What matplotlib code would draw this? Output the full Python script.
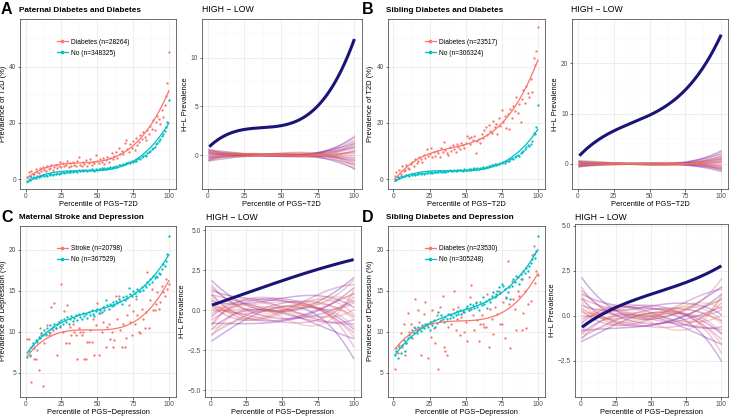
import numpy as np
import matplotlib
matplotlib.use('Agg')
import matplotlib.pyplot as plt
from matplotlib.lines import Line2D
from matplotlib import cm

plt.rcParams['font.family'] = ['Liberation Sans', 'DejaVu Sans']

# ---------------- data ----------------
percentile = list(range(1, 101))
perm_knots_x = [1, 25, 50, 75, 100]
hl_x = [1, 12.5, 25, 37.5, 50, 62.5, 75, 87.5, 100]

a_titles = ("Paternal Diabetes and Diabetes", "Diabetes (n=28264)", "No (n=348325)")
b_titles = ("Sibling Diabetes and Diabetes", "Diabetes (n=23517)", "No (n=306324)")
c_titles = ("Maternal Stroke and Depression", "Stroke (n=20798)", "No (n=367529)")
d_titles = ("Sibling Diabetes and Depression", "Diabetes (n=23530)", "No (n=305248)")

a_case = [0.8, 2.5, 1.2, 3.0, 2.0, 1.8, 3.5, 2.6, 2.2, 3.8,
          3.0, 4.2, 3.4, 2.8, 4.6, 3.6, 4.0, 5.0, 3.2, 4.4,
          5.2, 3.8, 4.8, 6.0, 4.2, 5.6, 4.6, 5.0, 6.4, 4.4,
          5.8, 4.8, 6.2, 5.0, 4.6, 6.6, 8.0, 5.2, 4.8, 6.0,
          5.4, 6.8, 4.6, 5.8, 7.2, 5.0, 6.2, 5.6, 8.6, 6.4,
          5.6, 7.0, 6.0, 7.6, 5.4, 6.8, 8.0, 6.2, 7.4, 9.2,
          7.0, 8.4, 9.8, 7.6, 11.0, 8.8, 10.2, 9.0, 13.0, 14.0,
          10.8, 9.6, 12.4, 11.2, 13.6, 10.4, 14.8, 12.0, 13.4, 15.6,
          14.2, 16.8, 15.0, 13.8, 17.6, 16.2, 19.0, 18.0, 21.0, 17.4,
          20.2, 22.6, 21.4, 19.8, 24.7, 22.0, 26.4, 29.7, 34.3, 45.4]
a_no = [-0.6, 0.2, -0.2, 0.6, 0.4, 0.8, 0.5, 1.0, 0.9, 1.2,
        1.0, 1.4, 1.2, 1.6, 1.3, 1.7, 1.5, 1.9, 1.6, 2.0,
        1.8, 2.2, 1.9, 2.3, 2.1, 2.5, 2.2, 2.6, 2.4, 2.7,
        2.5, 2.9, 2.6, 2.8, 3.0, 2.7, 3.1, 2.9, 3.2, 3.0,
        3.3, 3.1, 2.9, 3.4, 3.2, 3.5, 3.3, 3.0, 3.6, 3.4,
        3.7, 3.5, 3.8, 3.6, 4.0, 3.7, 4.1, 3.9, 4.3, 4.0,
        4.4, 4.2, 4.6, 4.4, 4.9, 5.2, 5.0, 5.5, 5.3, 5.8,
        5.6, 6.0, 5.8, 6.3, 6.1, 6.6, 6.4, 7.0, 7.4, 7.2,
        7.8, 8.2, 8.6, 8.4, 9.2, 9.8, 10.2, 10.8, 11.0, 11.6,
        12.4, 12.8, 13.6, 14.2, 15.4, 16.0, 17.2, 18.4, 20.3, 28.3]
a_hl = [0.9, 2.0, 2.6, 2.8, 3.1, 3.7, 5.0, 7.6, 12.0]

b_case = [1.0, 2.4, 0.6, 3.4, 1.8, 4.6, 2.8, 3.2, 5.0, 4.0,
          3.6, 5.4, 6.2, 4.8, 7.0, 5.6, 6.4, 8.0, 7.2, 6.0,
          8.6, 7.4, 10.6, 8.2, 9.0, 11.2, 7.8, 9.6, 8.4, 10.2,
          9.2, 8.0, 11.0, 9.8, 13.4, 10.4, 9.4, 8.6, 11.6, 10.0,
          12.0, 10.8, 9.6, 12.6, 11.4, 10.6, 13.0, 12.2, 11.0, 12.8,
          15.2, 14.6, 12.6, 15.0, 14.0, 15.4, 9.2, 13.6, 14.4, 13.0,
          16.0, 14.8, 17.6, 18.4, 15.6, 19.2, 17.0, 16.4, 20.8, 18.6,
          19.6, 16.2, 21.6, 18.8, 24.6, 20.4, 22.4, 18.2, 23.2, 17.8,
          25.0, 21.8, 26.2, 24.4, 29.4, 23.6, 26.8, 20.2, 28.6, 31.6,
          27.2, 33.2, 30.6, 29.4, 35.8, 31.0, 43.0, 40.8, 45.6, 54.2]
b_no = [0.0, -0.2, 0.6, 0.4, 1.0, 0.8, 1.2, 1.0, 1.4, 1.6,
        1.3, 1.7, 1.5, 1.9, 1.6, 2.0, 1.8, 2.1, 1.9, 2.2,
        2.0, 2.3, 2.1, 2.4, 2.2, 2.5, 2.3, 2.6, 2.4, 2.7,
        2.5, 2.8, 2.6, 2.7, 2.9, 2.6, 3.0, 2.8, 3.1, 2.9,
        3.0, 3.2, 2.9, 3.3, 3.1, 3.4, 3.2, 3.0, 3.5, 3.3,
        3.4, 3.6, 3.3, 3.7, 3.5, 3.8, 3.6, 3.9, 3.7, 4.0,
        3.8, 4.2, 4.0, 4.4, 4.3, 4.8, 4.6, 5.0, 4.9, 5.3,
        5.1, 5.5, 5.4, 5.8, 5.6, 6.0, 5.9, 6.3, 6.6, 6.4,
        7.0, 7.4, 7.2, 7.8, 8.2, 8.6, 8.4, 9.2, 9.6, 10.2,
        10.6, 11.4, 12.0, 11.8, 12.6, 13.6, 16.4, 16.0, 18.6, 26.3]
b_hl = [1.5, 4.6, 6.6, 8.2, 9.5, 11.5, 14.8, 19.5, 25.5]

c_case = [9.1, 9.1, 7.0, 3.9, 8.4, 6.7, 6.7, 7.8, 5.3, 10.5,
          9.6, 3.4, 8.6, 9.6, 10.8, 9.6, 9.8, 13.0, 10.2, 13.5,
          10.5, 7.2, 11.2, 10.6, 15.8, 10.0, 12.5, 8.6, 13.3, 8.6,
          10.6, 9.6, 11.0, 10.0, 9.6, 6.7, 10.4, 10.0, 9.6, 10.0,
          6.7, 6.7, 8.7, 8.7, 10.2, 8.7, 11.5, 7.2, 10.8, 13.5,
          7.2, 12.3, 10.0, 11.2, 13.0, 8.2, 10.6, 11.0, 9.1, 10.0,
          8.2, 9.0, 14.4, 11.6, 14.4, 10.2, 8.1, 11.0, 8.1, 9.2,
          12.0, 13.3, 11.2, 9.6, 12.5, 11.0, 14.0, 12.0, 10.0, 9.8,
          12.8, 11.6, 10.5, 12.4, 17.3, 10.5, 13.9, 15.2, 12.6, 12.7,
          13.4, 14.8, 12.8, 13.6, 15.6, 14.8, 14.4, 16.4, 15.2, 15.8]
c_no = [6.9, 7.6, 7.2, 8.2, 8.6, 8.0, 9.0, 8.8, 9.4, 9.2,
        9.8, 9.6, 10.2, 9.7, 10.4, 10.0, 10.8, 10.3, 10.6, 11.0,
        10.4, 10.9, 11.2, 10.7, 11.4, 11.0, 11.6, 11.2, 11.8, 10.9,
        11.5, 11.9, 11.3, 11.7, 12.0, 11.4, 12.2, 11.8, 11.6, 12.3,
        11.9, 12.1, 11.7, 12.4, 12.0, 12.6, 12.2, 11.9, 12.5, 12.8,
        12.3, 12.7, 12.4, 13.0, 12.6, 13.9, 13.2, 12.8, 13.4, 13.1,
        13.6, 13.3, 13.8, 13.5, 14.0, 13.7, 13.4, 14.2, 13.9, 14.4,
        14.1, 15.3, 14.6, 14.3, 15.0, 14.7, 14.4, 15.2, 14.9, 15.0,
        15.4, 15.1, 15.7, 15.5, 16.0, 15.8, 16.4, 16.1, 16.8, 16.5,
        16.8, 16.6, 17.2, 17.0, 17.6, 18.2, 18.0, 18.6, 19.5, 21.6]
c_hl = [0.3, 0.7, 1.06, 1.45, 1.83, 2.2, 2.56, 2.87, 3.15]

d_case = [5.5, 8.0, 7.4, 8.4, 9.8, 8.2, 11.0, 7.2, 8.6, 12.3,
          10.0, 11.0, 9.2, 10.6, 14.0, 10.2, 12.7, 11.2, 7.2, 10.6,
          12.2, 13.6, 10.8, 6.8, 11.2, 9.4, 12.6, 10.4, 8.6, 12.0,
          5.5, 13.0, 11.4, 14.4, 8.2, 7.6, 7.2, 10.6, 12.2, 11.0,
          12.8, 14.9, 10.2, 11.6, 13.0, 9.6, 11.8, 12.4, 10.0, 11.2,
          8.9, 12.6, 14.2, 15.7, 12.0, 10.2, 13.6, 11.4, 8.9, 11.0,
          12.0, 11.0, 10.6, 10.6, 14.6, 8.1, 12.8, 11.6, 9.7, 13.0,
          14.4, 12.2, 15.0, 11.0, 11.0, 13.6, 9.3, 14.2, 18.6, 13.4,
          8.0, 16.2, 14.0, 12.8, 10.2, 15.0, 14.4, 16.4, 10.2, 12.3,
          15.0, 10.4, 13.4, 16.6, 13.8, 19.3, 20.4, 15.9, 17.4, 16.9]
d_no = [7.2, 7.6, 6.8, 8.2, 7.4, 8.4, 9.0, 7.6, 8.6, 9.2,
        9.6, 9.4, 10.2, 9.8, 10.4, 9.9, 10.6, 10.3, 10.1, 10.8,
        10.4, 10.9, 11.0, 10.6, 10.2, 11.2, 10.8, 11.4, 10.6, 11.1,
        12.4, 11.3, 12.0, 11.6, 11.2, 11.8, 11.5, 12.2, 11.7, 12.0,
        11.8, 12.3, 12.0, 12.5, 12.2, 12.7, 12.1, 12.6, 12.4, 12.9,
        13.1, 12.6, 13.4, 12.8, 13.2, 12.9, 13.5, 13.0, 12.7, 13.6,
        13.3, 14.2, 13.4, 13.8, 12.9, 14.0, 13.6, 14.4, 14.8, 14.2,
        14.6, 14.9, 15.4, 14.7, 15.8, 15.6, 15.2, 14.1, 14.8, 15.4,
        14.0, 15.6, 16.4, 16.0, 16.8, 16.6, 15.8, 17.0, 16.4, 17.4,
        17.2, 17.8, 17.4, 18.0, 18.4, 18.8, 19.4, 19.0, 19.8, 21.6]
d_hl = [-0.65, 0.0, 0.5, 0.85, 1.15, 1.5, 1.9, 2.3, 2.75]

# permutation (null) difference curves: values at perm_knots_x
a_perm = [[0.5, 0.1, -0.1, 0.2, 1.8], [-0.6, -0.1, 0.1, -0.2, -1.4], [0.3, 0.0, 0.1, 0.1, 0.9],
          [-0.3, 0.1, -0.1, 0.0, -0.6], [0.2, -0.1, 0.0, 0.2, 1.2], [-0.5, 0.0, 0.1, -0.1, 0.4],
          [0.4, 0.1, -0.1, -0.2, -1.0], [-0.2, -0.1, 0.0, 0.1, 1.5], [0.1, 0.1, 0.1, -0.1, -0.3],
          [-0.4, 0.0, -0.1, 0.2, 0.7], [0.6, -0.1, 0.0, 0.0, -0.8], [0.0, 0.0, 0.1, 0.1, 0.2],
          [-0.1, 0.1, -0.1, -0.1, 1.1], [0.3, -0.1, 0.1, 0.2, -1.2], [-0.5, 0.1, 0.0, -0.2, 0.5],
          [0.2, 0.0, -0.1, 0.1, -0.5], [-0.3, -0.1, 0.1, 0.0, 2.0], [0.4, 0.1, 0.0, -0.1, 0.0],
          [-0.2, 0.0, 0.0, 0.2, -1.5], [0.1, -0.1, 0.1, -0.2, 0.8], [0.5, 0.0, -0.1, 0.1, -0.2],
          [-0.6, 0.1, 0.1, 0.0, 1.3], [0.0, -0.1, 0.0, 0.1, -0.9], [0.3, 0.1, 0.0, -0.1, 0.3]]
b_perm = [[0.6, 0.1, -0.1, 0.2, 2.6], [-0.5, -0.1, 0.1, -0.2, -1.5], [0.3, 0.0, 0.1, 0.1, 1.4],
          [-0.3, 0.1, -0.1, 0.0, -0.9], [0.2, -0.1, 0.0, 0.3, 2.0], [-0.6, 0.0, 0.1, -0.1, 0.6],
          [0.4, 0.1, -0.1, -0.2, -1.1], [-0.2, -0.1, 0.0, 0.1, 1.0], [0.1, 0.1, 0.1, -0.1, -0.4],
          [-0.4, 0.0, -0.1, 0.2, 0.9], [0.5, -0.1, 0.0, 0.0, -0.7], [0.0, 0.0, 0.1, 0.1, 0.3],
          [-0.1, 0.1, -0.1, -0.1, 1.7], [0.3, -0.1, 0.1, 0.2, -1.3], [-0.5, 0.1, 0.0, -0.2, 0.2],
          [0.2, 0.0, -0.1, 0.1, -0.2], [-0.3, -0.1, 0.1, 0.0, 2.3], [0.4, 0.1, 0.0, -0.1, 0.5],
          [-0.2, 0.0, 0.0, 0.2, -1.0], [0.1, -0.1, 0.1, -0.2, 1.2], [0.5, 0.0, -0.1, 0.1, -0.5],
          [-0.6, 0.1, 0.1, 0.0, 0.8], [0.0, -0.1, 0.0, 0.1, -0.8], [0.3, 0.1, 0.0, -0.1, 1.5]]
c_perm = [[1.8, 0.4, -0.2, 0.6, 2.0], [-1.9, -0.6, 0.3, -0.4, -3.0], [1.2, 0.8, 0.5, 0.2, -1.2],
          [-0.8, -0.9, -0.6, -0.1, 1.4], [0.6, 0.3, 0.9, 0.8, 0.2], [-1.2, 0.1, -0.3, -0.8, -1.8],
          [0.9, -0.4, -0.7, 0.1, 1.0], [-0.4, 0.6, 0.2, -0.6, -0.6], [1.4, 0.0, -0.5, -0.3, 0.6],
          [-1.5, -0.3, 0.4, 0.5, -0.4], [0.3, -0.7, 0.0, 0.9, 1.6], [-0.6, 0.5, 0.7, 0.1, -1.4],
          [1.0, 0.2, 0.1, -0.9, -0.8], [0.0, -0.2, -0.9, -0.5, 0.8], [-1.0, 0.9, 0.3, 0.3, 0.4],
          [0.5, -0.5, 0.6, -0.2, -2.2], [-0.2, 0.3, -0.4, 0.6, 1.8], [1.6, -0.1, 0.2, 0.0, -1.0],
          [-1.6, 0.2, -0.1, -0.3, 0.0], [0.8, -0.8, 0.4, 0.4, -0.2], [-0.9, 0.6, -0.8, -0.7, 1.2],
          [0.2, 0.1, 0.8, -0.1, -1.6], [1.1, -0.6, -0.2, 0.7, 0.5], [-0.3, 0.7, 0.0, -0.4, 1.1],
          [0.4, -0.3, 0.5, 0.2, -0.5], [-1.3, -0.1, -0.6, 0.8, 0.9]]
d_perm = [[2.1, 0.3, -0.2, 0.4, 1.6], [-1.4, -0.5, 0.2, -0.3, -2.5], [1.2, 0.6, 0.4, 0.1, -1.0],
          [-0.8, -0.7, -0.5, 0.0, 1.2], [0.6, 0.2, 0.7, 0.6, 0.1], [-1.0, 0.1, -0.2, -0.6, -1.6],
          [0.9, -0.3, -0.6, 0.1, 0.9], [-0.4, 0.5, 0.2, -0.5, -0.6], [1.4, 0.0, -0.4, -0.2, 0.5],
          [-1.2, -0.2, 0.3, 0.4, -0.3], [0.3, -0.6, 0.0, 0.7, 1.5], [-0.6, 0.4, 0.5, 0.1, -1.3],
          [1.0, 0.1, 0.1, -0.7, -0.7], [0.0, -0.2, -0.7, -0.4, 0.7], [-0.9, 0.7, 0.2, 0.2, 0.3],
          [0.5, -0.4, 0.5, -0.2, -2.0], [-0.2, 0.3, -0.3, 0.5, 2.0], [1.6, -0.1, 0.2, 0.0, -0.9],
          [-1.3, 0.2, -0.1, -0.2, 0.0], [0.8, -0.6, 0.3, 0.3, -0.2], [-0.7, 0.5, -0.6, -0.6, 1.1],
          [0.2, 0.1, 0.6, -0.1, -1.5], [1.1, -0.5, -0.2, 0.6, 0.4], [-0.3, 0.6, 0.0, -0.3, 1.0],
          [0.4, -0.3, 0.4, 0.2, -0.4], [-1.1, -0.1, -0.5, 0.7, 0.8]]

# ---------------- styling ----------------
W, H = 730, 416
RED, TEAL, NAVY = '#F8766D', '#00BFC4', '#1B1478'
fig = plt.figure(figsize=(W / 100, H / 100), dpi=100)
fig.patch.set_facecolor('white')


def ax_px(l, t, r, b):
    return fig.add_axes([l / W, 1 - b / H, (r - l) / W, (b - t) / H])


def ftext(x, y, s, **kw):
    fig.text(x / W, 1 - y / H, s, va='center', ha='left', **kw)


def style(ax, ylim, yticks, ylabels, xlabel, ylabel):
    ax.set_xlim(-3.95, 104.95)
    ax.set_ylim(*ylim)
    ax.set_xticks([0, 25, 50, 75, 100])
    ax.set_xticklabels(['0', '25', '50', '75', '100'])
    ax.set_xticks([12.5, 37.5, 62.5, 87.5], minor=True)
    ax.set_yticks(yticks)
    ax.set_yticklabels(ylabels)
    step = yticks[1] - yticks[0]
    minors = [yticks[0] - step / 2] + [t + step / 2 for t in yticks]
    minors = [m for m in minors if ylim[0] < m < ylim[1]]
    ax.set_yticks(minors, minor=True)
    ax.grid(which='major', color='#EBEBEB', lw=0.6)
    ax.grid(which='minor', color='#F3F3F3', lw=0.35)
    ax.set_axisbelow(True)
    ax.tick_params(which='major', length=1.8, width=0.5, color='#333333',
                   labelsize=4.8, labelcolor='#4D4D4D', pad=1.0)
    ax.tick_params(which='minor', length=0)
    for s in ax.spines.values():
        s.set_color('#333333')
        s.set_linewidth(0.5)
    ax.set_xlabel(xlabel, fontsize=5.4, labelpad=1.0)
    ax.set_ylabel(ylabel, fontsize=5.4, labelpad=1.5)


grid_x = np.linspace(1, 100, 300)
x = np.array(percentile, dtype=float)


def left_panel(box, case, no, titles, ylim, yticks, ylabels, xlabel, ylabel):
    ax = ax_px(*box)
    style(ax, ylim, yticks, ylabels, xlabel, ylabel)
    ax.scatter(x, case, s=2.8, color=RED, lw=0, zorder=3)
    ax.scatter(x, no, s=2.8, color=TEAL, lw=0, zorder=3)
    fc = np.polyval(np.polyfit(x, case, 3), grid_x)
    fn = np.polyval(np.polyfit(x, no, 3), grid_x)
    ax.plot(grid_x, fc, color=RED, lw=0.9, zorder=4)
    ax.plot(grid_x, fn, color=TEAL, lw=0.9, zorder=4)
    handles = [Line2D([], [], color=RED, lw=0.9, marker='o', ms=1.6),
               Line2D([], [], color=TEAL, lw=0.9, marker='o', ms=1.6)]
    ax.legend(handles, [titles[1], titles[2]], loc='upper left',
              bbox_to_anchor=(0.235, 0.885), frameon=False, fontsize=4.8,
              handlelength=1.7, handletextpad=0.5, labelspacing=0.62,
              borderaxespad=0, borderpad=0)


def right_panel(box, hl, perm, ylim, yticks, ylabels, xlabel):
    ax = ax_px(*box)
    style(ax, ylim, yticks, ylabels, xlabel, 'H\u2212L Prevalence')
    cols = cm.plasma(np.linspace(0.1, 0.75, len(perm)))
    for i, kn in enumerate(perm):
        yy = np.polyval(np.polyfit(perm_knots_x, kn, 3), grid_x)
        ax.plot(grid_x, yy, color=cols[i], alpha=0.3, lw=1.1, zorder=2)
    hy = np.polyval(np.polyfit(hl_x, hl, 3), grid_x)
    ax.plot(grid_x, hy, color=NAVY, lw=2.2, zorder=5, solid_capstyle='butt')


xl_t2d = 'Percentile of PGS\u2212T2D'
xl_dep = 'Percentile of PGS\u2212Depression'

# A
left_panel((20, 19, 176, 189), a_case, a_no, a_titles, (-3.5, 57), [0, 20, 40],
           ['0', '20', '40'], xl_t2d, 'Prevalence of T2D (%)')
right_panel((202, 19, 361.7, 189), a_hl, a_perm, (-3.5, 14.0), [0, 5, 10], ['0', '5', '10'], xl_t2d)
# B
left_panel((387.7, 19, 545, 189), b_case, b_no, b_titles, (-3.5, 57), [0, 20, 40],
           ['0', '20', '40'], xl_t2d, 'Prevalence of T2D (%)')
right_panel((572.3, 19, 728.3, 189), b_hl, b_perm, (-5.0, 28.8), [0, 10, 20], ['0', '10', '20'], xl_t2d)
# C
left_panel((20, 225.7, 176, 396.7), c_case, c_no, c_titles, (2.1, 22.9), [5, 10, 15, 20],
           ['5', '10', '15', '20'], xl_dep, 'Prevalence of Depression (%)')
right_panel((205, 225.7, 360.7, 396.7), c_hl, c_perm, (-5.4, 5.27), [-5, -2.5, 0, 2.5, 5],
            ['\u22125.0', '\u22122.5', '0.0', '2.5', '5.0'], xl_dep)
# D
left_panel((387.7, 225.7, 545, 396.7), d_case, d_no, d_titles, (2.1, 22.9), [5, 10, 15, 20],
           ['5', '10', '15', '20'], xl_dep, 'Prevalence of Depression (%)')
right_panel((575, 224, 728.3, 397), d_hl, d_perm, (-4.5, 5.1), [-2.5, 0, 2.5, 5],
            ['\u22122.5', '0.0', '2.5', '5.0'], xl_dep)

# titles
for lx, tx, yy, letter, title in [(1, 19, 10, 'A', a_titles[0]), (362, 386, 10, 'B', b_titles[0]),
                                    (1, 19, 217, 'C', c_titles[0]), (362, 386, 217, 'D', d_titles[0])]:
    ftext(lx, yy, letter, fontsize=11.5, fontweight='bold')
    ftext(tx, yy + 0.5, title, fontsize=5.9, fontweight='bold')
for tx, yy in [(202, 10), (571, 10), (206, 217), (575, 217)]:
    ftext(tx, yy, 'HIGH \u2212 LOW', fontsize=6.3)

fig.savefig('out.png', dpi=100, facecolor='white')
